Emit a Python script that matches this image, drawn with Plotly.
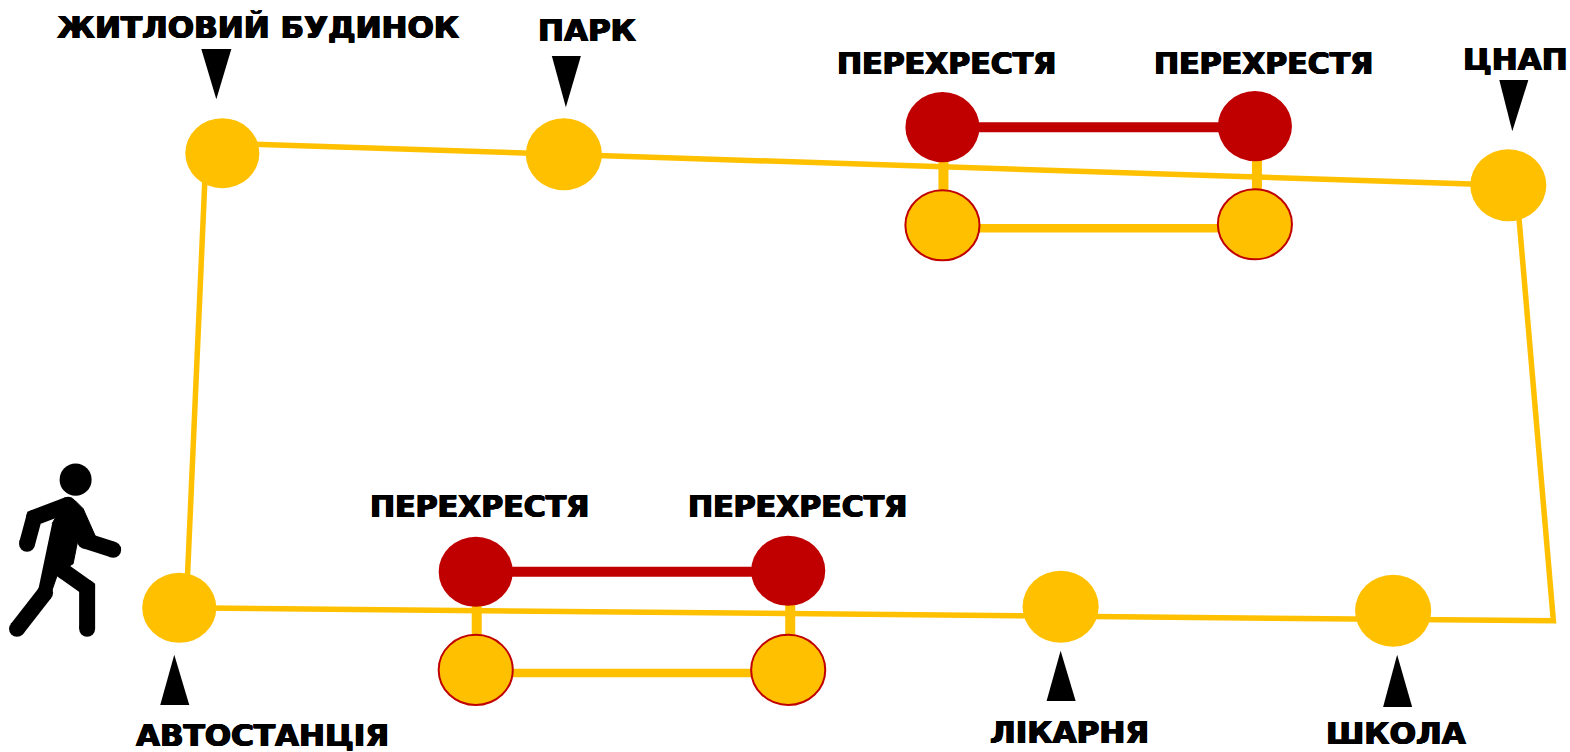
import plotly.graph_objects as go

WIDTH, HEIGHT = 1570, 752
YELLOW = "#FFC000"
RED = "#C00000"

# Route
route_x = [205, 187, 179, 1551, 1516, 1506, 222]
route_y = [170, 580, 607, 620, 210, 185, 143]

# Stops
stop_x = [222, 563, 1506, 179, 1059, 1391]
stop_y = [153, 154, 185, 607, 606, 610]
stop_rx = [37, 38, 38, 37, 38, 38]
stop_ry = [35, 36, 36, 35, 36, 36]

# Crossings
red_x = [941, 1253, 475, 787]
red_y = [127, 126, 571, 570]
amber_x = [941, 1253, 475, 787]
amber_y = [225, 224, 669, 669]

red_links = [([941, 1253], [127, 127]), ([475, 787], [571, 571])]
amber_links = [([941, 1253], [228, 228]), ([475, 787], [672, 672])]
post_links = [([942, 942], [127, 225]), ([1255, 1255], [126, 224]),
              ([476, 476], [571, 669]), ([789, 789], [570, 669])]

# Labels
label_text = ["ЖИТЛОВИЙ БУДИНОК", "ПАРК", "ПЕРЕХРЕСТЯ", "ПЕРЕХРЕСТЯ", "ЦНАП",
              "ПЕРЕХРЕСТЯ", "ПЕРЕХРЕСТЯ", "АВТОСТАНЦІЯ", "ЛІКАРНЯ", "ШКОЛА"]
label_x = [258, 586, 945, 1262, 1513, 479, 796, 262, 1068, 1394]
label_y = [27, 30, 63, 63, 59, 506, 506, 734, 731, 732]
label_size = [31, 31, 30, 30, 31, 30, 30, 31, 31, 31]

# Pointers
pointers = [
    ([201, 231, 216], [49, 49, 99]),
    ([551, 580, 565], [56, 56, 107]),
    ([1497, 1526, 1510], [80, 80, 131]),
    ([160, 189, 174], [704, 704, 654]),
    ([1045, 1074, 1059], [700, 700, 650]),
    ([1381, 1410, 1395], [706, 706, 654]),
]

# Walker
head = (75.5, 479, 16, 16)
torso_x = [52, 65, 75, 83, 95, 88, 78, 73, 58, 50, 38]
torso_y = [523, 500, 500, 508, 535, 548, 538, 563, 572, 595, 590]
limbs = [
    ([27, 34, 68], [543, 517, 504], 16),
    ([85, 113], [540, 549], 16),
    ([45, 17], [592, 628], 16),
    ([63, 87, 87], [570, 587, 628], 16),
]

fig = go.Figure()


def line(xs, ys, color, width):
    fig.add_trace(go.Scatter(x=xs, y=ys, mode="lines", hoverinfo="skip",
                             line=dict(color=color, width=width)))


line(route_x, route_y, YELLOW, 5.5)
for xs, ys in post_links:
    line(xs, ys, YELLOW, 10)
for xs, ys in red_links:
    line(xs, ys, RED, 10)
for xs, ys in amber_links:
    line(xs, ys, YELLOW, 8.5)

for xs, ys in pointers:
    fig.add_trace(go.Scatter(x=xs, y=ys, mode="lines", fill="toself", fillcolor="black",
                             line=dict(width=0), hoverinfo="skip"))

fig.add_trace(go.Scatter(x=torso_x, y=torso_y, mode="lines", fill="toself", fillcolor="black",
                         line=dict(width=1, color="black"), hoverinfo="skip"))
for xs, ys, w in limbs:
    fig.add_trace(go.Scatter(x=xs, y=ys, mode="lines+markers", hoverinfo="skip",
                             line=dict(color="black", width=w),
                             marker=dict(color="black", size=w)))

shapes = []


def ellipse(cx, cy, rx, ry, fill, edge=None, ew=0):
    shapes.append(dict(type="circle", xref="x", yref="y", layer="above",
                       x0=cx - rx, x1=cx + rx, y0=cy - ry, y1=cy + ry,
                       fillcolor=fill, line=dict(color=edge or fill, width=ew)))


for cx, cy, rx, ry in zip(stop_x, stop_y, stop_rx, stop_ry):
    ellipse(cx, cy, rx, ry, YELLOW)
for cx, cy in zip(red_x, red_y):
    ellipse(cx, cy, 37, 35, RED)
for cx, cy in zip(amber_x, amber_y):
    ellipse(cx, cy, 37, 35, YELLOW, RED, 2)
ellipse(*head, "black")

annotations = [
    dict(x=x, y=y, xref="x", yref="y", text=t, showarrow=False,
         xanchor="center", yanchor="middle",
         font=dict(family="DejaVu Sans", size=s, weight=700, color="black",
                   shadow="0.8px 0 0 black, -0.8px 0 0 black, 0 0.3px 0 black, 0 -0.3px 0 black"))
    for t, x, y, s in zip(label_text, label_x, label_y, label_size)
]

fig.update_layout(
    width=WIDTH, height=HEIGHT, showlegend=False,
    margin=dict(l=0, r=0, t=0, b=0),
    paper_bgcolor="white", plot_bgcolor="white",
    xaxis=dict(range=[0, 1567.6], visible=False, fixedrange=True),
    yaxis=dict(range=[751, 0], visible=False, fixedrange=True),
    shapes=shapes, annotations=annotations,
)
fig.write_html("out.html", config={"displayModeBar": False},
               post_script="document.body.style.margin='0';document.body.style.overflow='hidden';")
